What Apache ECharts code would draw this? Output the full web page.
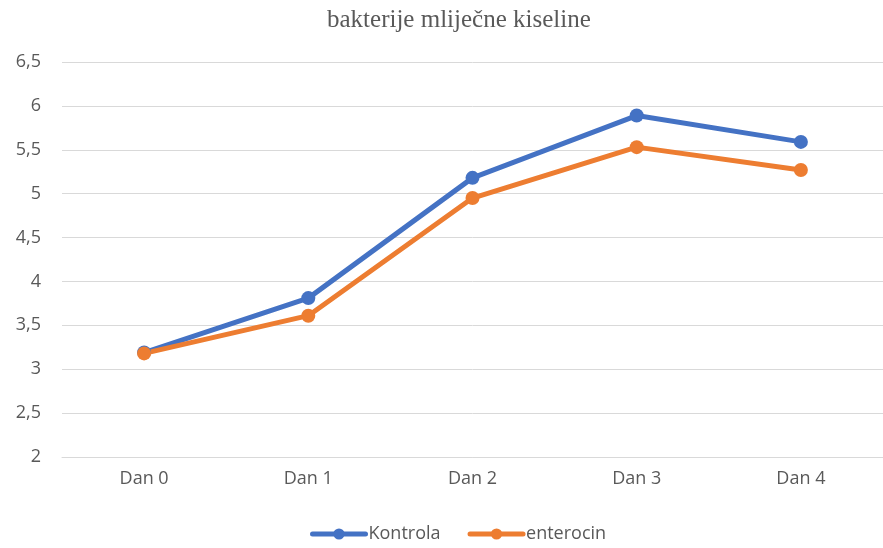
<!DOCTYPE html>
<html>
<head>
<meta charset="utf-8">
<script src="https://cdn.jsdelivr.net/npm/echarts@6/dist/echarts.min.js"></script>
<style>
  html, body { margin: 0; padding: 0; background: #fff; }
  #myChart { width: 883px; height: 548px; }
</style>
</head>
<body>
<div id="myChart"></div>
<script>
const days = ["Dan 0", "Dan 1", "Dan 2", "Dan 3", "Dan 4"];
const kontrola = [3.19, 3.81, 5.18, 5.89, 5.59];
const enterocin = [3.18, 3.61, 4.95, 5.53, 5.27];

const myChart = echarts.init(document.getElementById("myChart"), null, {
    width: 883,
    height: 548,
});

const textColor = "#595959";
const font = "Open Sans";

const makeSeries = (name, data, color) => ({
    name: name,
    type: "line",
    data: data,
    symbol: "circle",
    symbolSize: 14,
    lineStyle: { width: 5, color: color, cap: "round" },
    itemStyle: { color: color },
    animation: false,
});

const options = {
    title: {
        text: "bakterije mliječne kiseline",
        left: 322,
        top: 3,
        textStyle: {
            fontFamily: "Liberation Serif",
            fontSize: 25,
            fontWeight: "normal",
            color: textColor,
        },
    },
    legend: {
        bottom: 0,
        left: 305,
        itemWidth: 53,
        itemHeight: 14,
        itemGap: 27,
        lineStyle: { width: 5, cap: "round" },
        textStyle: { fontFamily: font, fontSize: 18, color: textColor, padding: [0, 0, 0, -2] },
        data: ["Kontrola", "enterocin"],
    },
    grid: { left: 62, right: -8, top: 62, bottom: 91 },
    xAxis: {
        type: "category",
        data: days,
        axisLine: { lineStyle: { color: "#d9d9d9" } },
        axisTick: { show: false },
        axisLabel: { fontFamily: font, fontSize: 18, color: textColor, margin: 13 },
    },
    yAxis: {
        type: "value",
        min: 2,
        max: 6.5,
        interval: 0.5,
        axisLine: { show: false },
        axisTick: { show: false },
        splitLine: { lineStyle: { color: "#d9d9d9", width: 1 } },
        axisLabel: {
            fontFamily: font,
            fontSize: 18,
            color: textColor,
            margin: 21,
            formatter: (v) => String(v).replace(".", ","),
        },
    },
    series: [
        makeSeries("Kontrola", kontrola, "#4472C4"),
        makeSeries("enterocin", enterocin, "#ED7D31"),
    ],
};

myChart.setOption(options);
</script>
</body>
</html>
